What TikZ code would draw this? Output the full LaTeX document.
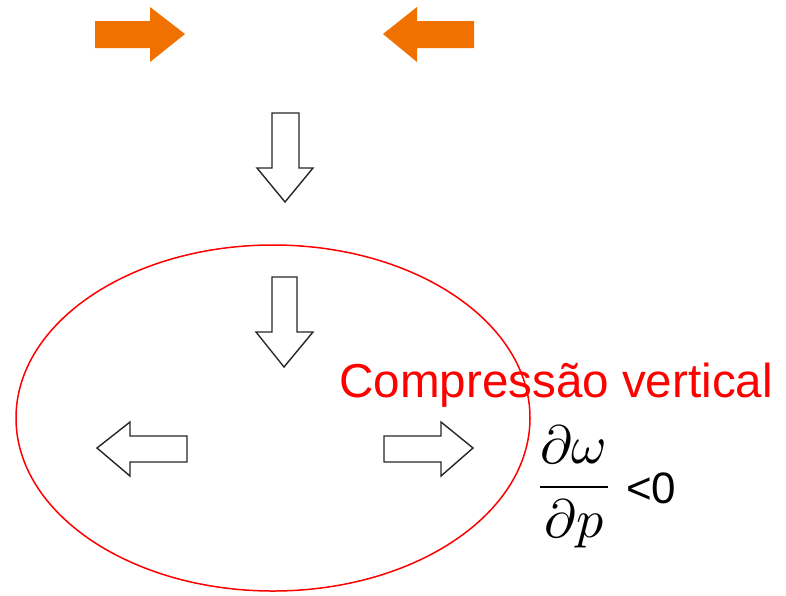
\documentclass[tikz,border=0pt]{standalone}
\usepackage{fontspec}
\setmainfont{Liberation Sans}
\usepackage{amsmath}
\usepackage{graphicx}
\definecolor{arroworange}{RGB}{240,112,0}
\definecolor{ellred}{RGB}{255,0,0}
\begin{document}
\begin{tikzpicture}[x=1pt,y=-1pt,
  solidarrow/.style={fill=arroworange,draw=none},
  hollowarrow/.style={draw=black!85,line width=1.4pt,fill=white,line join=miter},
  redtext/.style={text=ellred,font=\fontsize{47.6}{56}\selectfont,inner sep=0pt,anchor=base west},
  blacktext/.style={text=black,font=\fontsize{44}{52}\selectfont,inner sep=0pt,anchor=base west}]
\useasboundingbox (0,0) rectangle (786,595);
% orange arrows
\fill[solidarrow] (95,21) -- (150,21) -- (150,7) -- (185,34) -- (150,62) -- (150,48) -- (95,48) -- cycle;
\fill[solidarrow] (474,21) -- (417,21) -- (417,7) -- (383,34) -- (417,62) -- (417,48) -- (474,48) -- cycle;
% upper down arrow
\draw[hollowarrow] (272,113) -- (299,113) -- (299,168) -- (313,168) -- (285,202) -- (257,168) -- (272,168) -- cycle;
% ellipse
\draw[ellred,line width=1.5pt] (273,418) ellipse [x radius=257, y radius=173];
% lower down arrow
\draw[hollowarrow] (272,277) -- (297,277) -- (297,332) -- (313,332) -- (284,367) -- (256,332) -- (272,332) -- cycle;
% left arrow
\draw[hollowarrow] (187,436) -- (130,436) -- (130,422) -- (97,448) -- (130,476) -- (130,462) -- (187,462) -- cycle;
% right arrow
\draw[hollowarrow] (384,436) -- (441,436) -- (441,422) -- (473,448) -- (441,476) -- (441,462) -- (384,462) -- cycle;
% texts
\node[redtext] (title) at (339,397) {Compressão vertical};
\node[inner sep=0pt] (frac) at (574,487) {\scalebox{5.4}{$\dfrac{\partial\omega}{\partial p}$}};
\node[blacktext] (lt) at (626,503) {<0};
\end{tikzpicture}
\end{document}
